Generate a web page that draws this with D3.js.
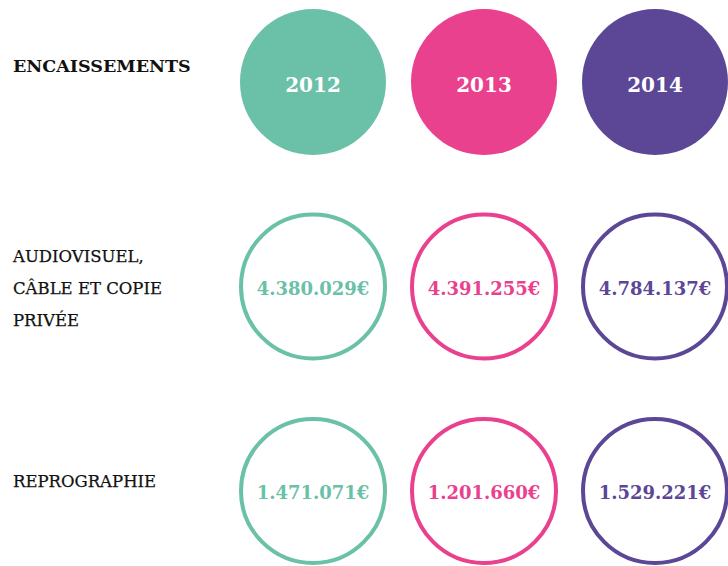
<!DOCTYPE html>
<html>
<head>
<meta charset="utf-8">
<script src="https://cdn.jsdelivr.net/npm/d3@7"></script>
<style>
  body { margin: 0; background: #fff; }
  text { font-family: "DejaVu Serif", serif; }
</style>
</head>
<body>
<script>
const years = ["2012", "2013", "2014"];
const yearColors = ["#6bc0a8", "#e9418e", "#5c4797"];
const categories = ["audiovisuel", "reprographie"];
const categoryLines = [
    ["AUDIOVISUEL,", "CÂBLE ET COPIE", "PRIVÉE"],
    ["REPROGRAPHIE"]
];
const audiovisuelValues = [4380029, 4391255, 4784137];
const reprographieValues = [1471071, 1201660, 1529221];
const headerLabel = "ENCAISSEMENTS";

const svgWidth = 728;
const svgHeight = 566;
const radius = 73;

const svg = d3.select("body")
    .append("svg")
    .attr("width", svgWidth)
    .attr("height", svgHeight);

const x = d3.scalePoint().domain(years).range([313, 655]);
const y = d3.scalePoint().domain(["header"].concat(categories)).range([82, 491]);
const color = d3.scaleOrdinal().domain(years).range(yearColors);

const fr = d3.formatLocale({decimal: ",", thousands: ".", grouping: [3], currency: ["", "€"]});
const money = fr.format("$,d");

// header row
svg.append("text")
    .attr("x", 13)
    .attr("y", 72)
    .attr("font-weight", "bold")
    .attr("font-size", 17.5)
    .attr("fill", "#111")
    .text(headerLabel);

const head = svg.selectAll(".head")
    .data(years)
    .enter()
    .append("g")
    .attr("class", "head")
    .attr("transform", d => `translate(${x(d)}, ${y("header")})`);

head.append("circle")
    .attr("r", radius)
    .attr("fill", d => color(d));

head.append("text")
    .attr("text-anchor", "middle")
    .attr("y", 10)
    .attr("fill", "#fff")
    .attr("font-weight", "bold")
    .attr("font-size", 20)
    .text(d => d);

// category rows
const rows = [audiovisuelValues, reprographieValues];
categories.forEach((cat, ci) => {
    const cy = y(cat);
    const lines = categoryLines[ci];
    const top = ci === 0 ? cy - 25 : cy - 4;

    svg.append("text")
        .attr("x", 13)
        .attr("font-size", 16.5)
        .attr("fill", "#111")
        .attr("stroke", "#111")
        .attr("stroke-width", 0.25)
        .selectAll("tspan")
        .data(lines)
        .enter()
        .append("tspan")
        .attr("x", 13)
        .attr("y", (d, i) => top + i * 32)
        .text(d => d);

    const cells = svg.selectAll(".cell-" + cat)
        .data(years.map((yr, i) => ({year: yr, value: rows[ci][i]})))
        .enter()
        .append("g")
        .attr("class", "cell-" + cat)
        .attr("transform", d => `translate(${x(d.year)}, ${cy})`);

    cells.append("circle")
        .attr("r", radius - 1)
        .attr("fill", "#fff")
        .attr("stroke", d => color(d.year))
        .attr("stroke-width", 4);

    cells.append("text")
        .attr("text-anchor", "middle")
        .attr("y", 8)
        .attr("fill", d => color(d.year))
        .attr("font-weight", "bold")
        .attr("font-size", 18)
        .text(d => money(d.value));
});
</script>
</body>
</html>
